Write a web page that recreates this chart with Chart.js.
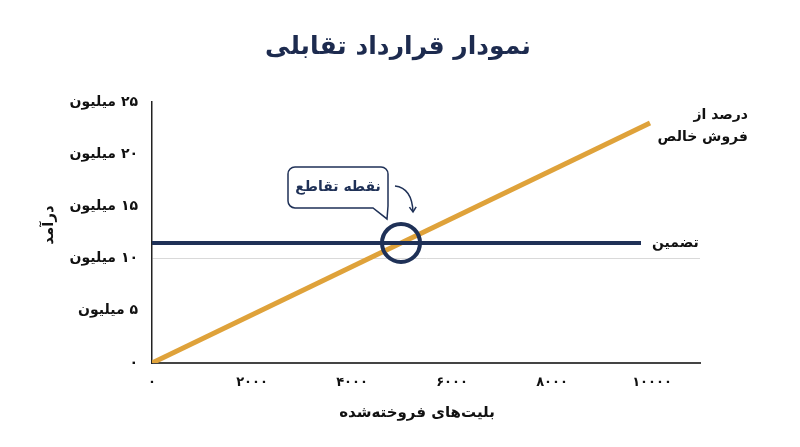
<!DOCTYPE html>
<html>
<head>
<meta charset="utf-8">
<script src="https://cdn.jsdelivr.net/npm/chart.js@4.4.1/dist/chart.umd.min.js"></script>
<style>
  html, body { margin: 0; padding: 0; background: #fff; }
  #wrap { width: 800px; height: 447px; }
</style>
</head>
<body>
<div id="wrap"><canvas id="chart" dir="rtl"></canvas></div>
<script>
// داده‌ها
const chartTitle = 'نمودار قرارداد تقابلی';
const xAxisTitle = 'بلیت‌های فروخته‌شده';
const yAxisTitle = 'درآمد';

const xTickValues = [0, 2000, 4000, 6000, 8000, 10000];
const xTickLabels = ['۰', '۲۰۰۰', '۴۰۰۰', '۶۰۰۰', '۸۰۰۰', '۱۰۰۰۰'];
const yTickValues = [0, 5000000, 10000000, 15000000, 20000000, 25000000];
const yTickLabels = ['۰', '۵ میلیون', '۱۰ میلیون', '۱۵ میلیون', '۲۰ میلیون', '۲۵ میلیون'];

const percentX = [0, 9960];
const percentRevenue = [0, 23000000];
const percentLabel = ['درصد از', 'فروش خالص'];

const guaranteeX = [0, 9780];
const guaranteeRevenue = [11500000, 11500000];
const guaranteeLabel = 'تضمین';

const crossX = [4980];
const crossY = [11500000];
const crossLabel = 'نقطه تقاطع';

const NAVY = '#1f3157';
const ORANGE = '#dfa23a';
const FONT = "'DejaVu Sans', sans-serif";

const toPoints = (xs, ys) => xs.map((x, i) => ({ x: x, y: ys[i] }));

// متن‌ها، برچسب سری‌ها و کادر نقطه تقاطع
const decorPlugin = {
    id: 'decor',
    beforeDraw(chart) {
        chart.ctx.direction = 'rtl';
    },
    afterDatasetsDraw(chart) {
        const { ctx, scales } = chart;
        const xs = scales.x, ys = scales.y;
        ctx.save();
        ctx.direction = 'rtl';
        ctx.textBaseline = 'middle';

        // عنوان
        ctx.fillStyle = '#1d2b4f';
        ctx.font = "bold 25px " + FONT;
        ctx.textAlign = 'center';
        ctx.fillText(chartTitle, 398, 47);

        // عنوان محورها
        ctx.fillStyle = '#111';
        ctx.font = "bold 15px " + FONT;
        ctx.fillText(xAxisTitle, 417, 413);
        ctx.save();
        ctx.translate(49, 225);
        ctx.rotate(-Math.PI / 2);
        ctx.fillText(yAxisTitle, 0, 0);
        ctx.restore();

        // برچسب سری‌ها
        ctx.font = "bold 14px " + FONT;
        const pEndX = xs.getPixelForValue(percentX[1]);
        const pEndY = ys.getPixelForValue(percentRevenue[1]);
        ctx.textAlign = 'right';
        ctx.fillText(percentLabel[0], pEndX + 98, pEndY - 8);
        ctx.fillText(percentLabel[1], pEndX + 98, pEndY + 14);

        const gEndX = xs.getPixelForValue(guaranteeX[1]);
        const gEndY = ys.getPixelForValue(guaranteeRevenue[1]);
        ctx.textAlign = 'left';
        ctx.fillText(guaranteeLabel, gEndX + 11, gEndY);

        // کادر نقطه تقاطع
        const cx = xs.getPixelForValue(crossX[0]);
        const cy = ys.getPixelForValue(crossY[0]);
        const L = cx - 113, R = cx - 13, T = cy - 76, B = cy - 35, r = 7;
        const tipX = cx - 14, tipY = cy - 24, tailX = cx - 28;
        ctx.beginPath();
        ctx.moveTo(L + r, T);
        ctx.lineTo(R - r, T);
        ctx.arcTo(R, T, R, T + r, r);
        ctx.lineTo(R, B - 2);
        ctx.lineTo(tipX, tipY);
        ctx.lineTo(tailX, B);
        ctx.lineTo(L + r, B);
        ctx.arcTo(L, B, L, B - r, r);
        ctx.lineTo(L, T + r);
        ctx.arcTo(L, T, L + r, T, r);
        ctx.closePath();
        ctx.fillStyle = '#fff';
        ctx.fill();
        ctx.strokeStyle = NAVY;
        ctx.lineWidth = 1.5;
        ctx.stroke();

        ctx.fillStyle = NAVY;
        ctx.textAlign = 'center';
        ctx.font = "bold 14px " + FONT;
        ctx.fillText(crossLabel, (L + R) / 2, (T + B) / 2);

        // فلش
        const ax0 = cx - 6, ay0 = cy - 57, acx = cx + 11, acy = cy - 55, ax1 = cx + 12, ay1 = cy - 31;
        ctx.beginPath();
        ctx.moveTo(ax0, ay0);
        ctx.quadraticCurveTo(acx, acy, ax1, ay1);
        ctx.stroke();
        const ang = Math.atan2(ay1 - acy, ax1 - acx);
        ctx.beginPath();
        ctx.moveTo(ax1 - 6 * Math.cos(ang - 0.6), ay1 - 6 * Math.sin(ang - 0.6));
        ctx.lineTo(ax1, ay1);
        ctx.lineTo(ax1 - 6 * Math.cos(ang + 0.6), ay1 - 6 * Math.sin(ang + 0.6));
        ctx.stroke();

        ctx.restore();
    }
};

new Chart(document.getElementById('chart'), {
    type: 'scatter',
    data: {
        datasets: [{
            label: percentLabel.join(' '),
            data: toPoints(percentX, percentRevenue),
            showLine: true,
            borderColor: ORANGE,
            borderWidth: 5,
            pointRadius: 0,
            order: 3
        }, {
            label: guaranteeLabel,
            data: toPoints(guaranteeX, guaranteeRevenue),
            showLine: true,
            borderColor: NAVY,
            borderWidth: 4,
            pointRadius: 0,
            order: 2
        }, {
            label: crossLabel,
            data: toPoints(crossX, crossY),
            showLine: false,
            pointRadius: 19,
            pointBorderWidth: 4,
            pointBorderColor: NAVY,
            pointBackgroundColor: 'rgba(0,0,0,0)',
            clip: false,
            order: 1
        }]
    },
    options: {
        responsive: true,
        maintainAspectRatio: false,
        animation: false,
        layout: { padding: { top: 102, right: 100, bottom: 0, left: 0 } },
        plugins: {
            legend: { display: false },
            tooltip: { enabled: false }
        },
        scales: {
            x: {
                type: 'linear',
                min: 0,
                max: 10960,
                afterFit: (s) => { s.height = 84; },
                afterBuildTicks: (s) => { s.ticks = xTickValues.map(v => ({ value: v })); },
                ticks: {
                    padding: 12,
                    color: '#111',
                    font: { family: FONT, size: 13, weight: 'bold' },
                    callback: (v) => xTickLabels[xTickValues.indexOf(v)] ?? ''
                },
                grid: { display: false, drawTicks: false },
                border: { display: true, color: '#444', width: 2 }
            },
            y: {
                type: 'linear',
                min: 0,
                max: 25000000,
                afterFit: (s) => { s.width = 152; },
                afterBuildTicks: (s) => { s.ticks = yTickValues.map(v => ({ value: v })); },
                ticks: {
                    padding: 14,
                    color: '#111',
                    font: { family: FONT, size: 14, weight: 'bold' },
                    callback: (v) => yTickLabels[yTickValues.indexOf(v)] ?? ''
                },
                grid: {
                    drawTicks: false,
                    color: (c) => (c.tick && c.tick.value === 10000000) ? '#d9d9d9' : 'rgba(0,0,0,0)',
                    lineWidth: 1
                },
                border: { display: true, color: '#222', width: 1.5 }
            }
        }
    },
    plugins: [decorPlugin]
});
</script>
</body>
</html>
